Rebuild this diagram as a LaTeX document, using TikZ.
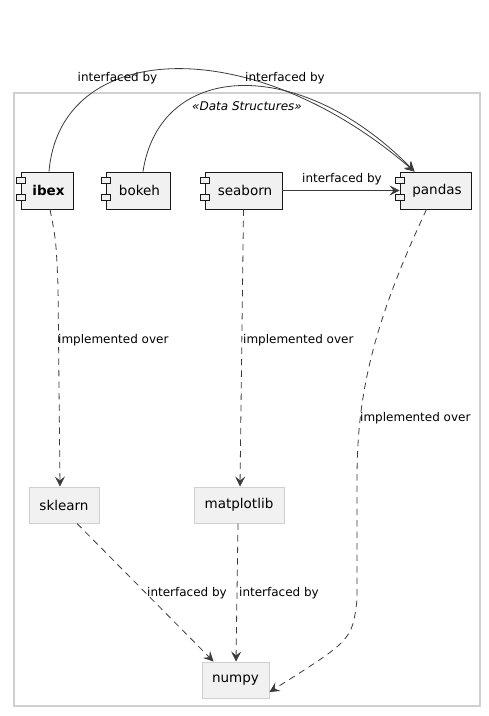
\documentclass[tikz,border=0pt]{standalone}
\usepackage{fontspec}
\setmainfont{DejaVu Sans}
\usetikzlibrary{arrows.meta}
\definecolor{lineC}{HTML}{181818}
\definecolor{fillC}{HTML}{F1F1F1}
\definecolor{frameC}{HTML}{D0D0D0}
\begin{document}
\begin{tikzpicture}[x=1pt,y=-1pt,
  comp/.style={draw=lineC,fill=fillC,line width=0.9pt,minimum height=37pt,inner sep=0pt,font=\fontsize{13.5}{16}\selectfont},
  plain/.style={draw=frameC,fill=fillC,line width=1pt,minimum height=36pt,inner sep=0pt,font=\fontsize{13.5}{16}\selectfont},
  icon/.style={draw=lineC,fill=fillC,line width=0.8pt},
  lbl/.style={font=\fontsize{12}{14}\selectfont,inner sep=0pt},
  conn/.style={draw=lineC!85!white,line width=0.8pt,-{Stealth[length=10pt,width=10pt,inset=4pt,line width=0.6pt]}},
  dconn/.style={conn,dash pattern=on 6.5pt off 5pt}
]
\useasboundingbox (0,0) rectangle (489,716);
\draw[frameC,line width=1.5pt] (14,93) rectangle (480,706);
\node[font=\fontsize{12}{14}\selectfont\itshape] (title) at (247,106) {«Data Structures»};

\node[comp,minimum width=52pt] (ibex) at (47,190.5) {\hspace*{3pt}\textbf{ibex}};
\node[comp,minimum width=64pt] (bokeh) at (138,190.5) {\hspace*{3pt}bokeh};
\node[comp,minimum width=77pt] (seaborn) at (243.5,190.5) {\hspace*{3pt}seaborn};
\node[comp,minimum width=71pt] (pandas) at (435.5,190.5) {\hspace*{3pt}pandas};
\foreach \n in {ibex,bokeh,seaborn,pandas}{
  \draw[icon] ([xshift=-4.5pt,yshift=-6pt]\n.north west) rectangle ([xshift=4.5pt,yshift=-12pt]\n.north west);
  \draw[icon] ([xshift=-4.5pt,yshift=-23pt]\n.north west) rectangle ([xshift=4.5pt,yshift=-29pt]\n.north west);
}

\node[plain,minimum width=70pt] (sklearn) at (64,505) {sklearn};
\node[plain,minimum width=90pt] (matplotlib) at (239,505) {matplotlib};
\node[plain,minimum width=67pt] (numpy) at (235.5,680) {numpy};

% solid connectors to pandas
\draw[conn] ([xshift=2pt]ibex.north) .. controls (60,40) and (250,30) .. ([xshift=-21pt]pandas.north);
\draw[conn] ([xshift=5pt]bokeh.north) .. controls (160,60) and (300,55) .. ([xshift=-21pt]pandas.north);
\draw[conn] (seaborn.east) -- (pandas.west);
\node[lbl] (l1) at (117.5,78) {interfaced by};
\node[lbl] (l2) at (285,78) {interfaced by};
\node[lbl] (l3) at (342,179) {interfaced by};

% dashed connectors
\draw[dconn] ([xshift=3pt]ibex.south) .. controls (56,240) .. (58,285) -- ([xshift=-4pt]sklearn.north);
\node[lbl,anchor=west] (l4) at (58,340) {implemented over};
\draw[dconn] (seaborn.south) -- ([xshift=1pt]matplotlib.north);
\node[lbl,anchor=west] (l5) at (243,340) {implemented over};
\draw[dconn] ([xshift=-9pt]pandas.south) .. controls (370,330) and (357,400) .. (357,480) -- (357,600) .. controls (352,640) .. ([yshift=-12pt]numpy.east);
\node[lbl,anchor=west] (l6) at (360,418) {implemented over};
\draw[dconn] ([xshift=13pt]sklearn.south) -- ([xshift=-22pt]numpy.north);
\node[lbl] (l7) at (187,593) {interfaced by};
\draw[dconn] ([xshift=-1pt]matplotlib.south) -- ([xshift=0.5pt]numpy.north);
\node[lbl] (l8) at (279,593) {interfaced by};
\end{tikzpicture}
\end{document}
